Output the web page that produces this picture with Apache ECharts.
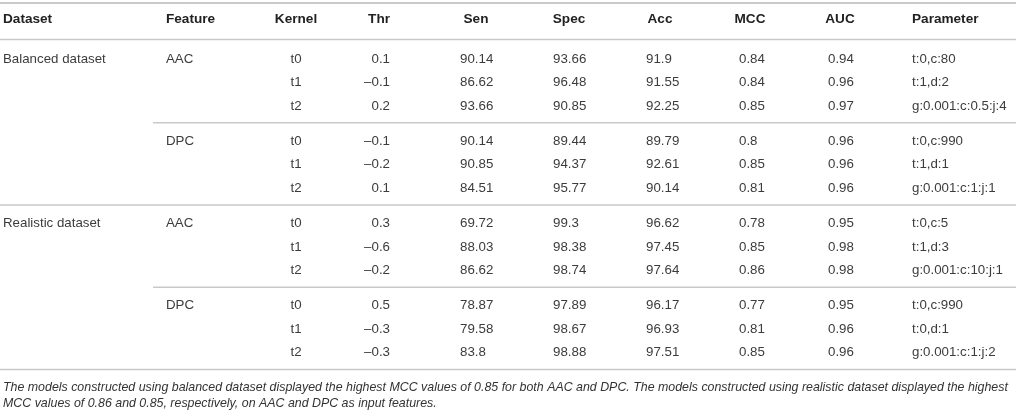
<!DOCTYPE html>
<html lang="en">
<head>
    <meta charset="UTF-8">
    <title>SVM results table</title>
    <script src="https://cdn.jsdelivr.net/npm/echarts@6.0.0/dist/echarts.min.js"></script>
    <style>
        html, body { margin: 0; padding: 0; background: #fff; }
    </style>
</head>
<body>
    <div id="main" style="width: 1016px; height: 413px"></div>
</body>
<script>
    // table content
    var columns = ['Dataset', 'Feature', 'Kernel', 'Thr', 'Sen', 'Spec', 'Acc', 'MCC', 'AUC', 'Parameter'];
    var datasets = ['Balanced dataset', 'Realistic dataset'];
    var features = ['AAC', 'DPC'];
    var kernels = ['t0', 't1', 't2'];
    var thr = [0.1, -0.1, 0.2, -0.1, -0.2, 0.1, 0.3, -0.6, -0.2, 0.5, -0.3, -0.3];
    var sen = [90.14, 86.62, 93.66, 90.14, 90.85, 84.51, 69.72, 88.03, 86.62, 78.87, 79.58, 83.8];
    var spec = [93.66, 96.48, 90.85, 89.44, 94.37, 95.77, 99.3, 98.38, 98.74, 97.89, 98.67, 98.88];
    var acc = [91.9, 91.55, 92.25, 89.79, 92.61, 90.14, 96.62, 97.45, 97.64, 96.17, 96.93, 97.51];
    var mcc = [0.84, 0.84, 0.85, 0.8, 0.85, 0.81, 0.78, 0.85, 0.86, 0.77, 0.81, 0.85];
    var auc = [0.94, 0.96, 0.97, 0.96, 0.96, 0.96, 0.95, 0.98, 0.98, 0.95, 0.96, 0.96];
    var params = ['t:0,c:80', 't:1,d:2', 'g:0.001:c:0.5:j:4',
        't:0,c:990', 't:1,d:1', 'g:0.001:c:1:j:1',
        't:0,c:5', 't:1,d:3', 'g:0.001:c:10:j:1',
        't:0,c:990', 't:0,d:1', 'g:0.001:c:1:j:2'];
    var footnote = [
        'The models constructed using balanced dataset displayed the highest MCC values of 0.85 for both AAC and DPC. The models constructed using realistic dataset displayed the highest',
        'MCC values of 0.86 and 0.85, respectively, on AAC and DPC as input features.'
    ];

    // layout (x in px along a 0..1016 axis, y in row units)
    var headX = [3, 166, 296, 390, 476, 569, 660, 750, 840, 912];
    var headAlign = ['left', 'left', 'center', 'right', 'center', 'center', 'center', 'center', 'center', 'left'];
    var cellX = [3, 166, 296, 390, 460, 553, 646, 739, 828, 912];
    var cellAlign = ['left', 'left', 'center', 'right', 'left', 'left', 'left', 'left', 'left', 'left'];
    var FIRST_ROW = 1.7, GROUP_PITCH = 3.5;
    var FONT = '"Liberation Sans", Arial, sans-serif';

    function rowY(i) {
        return FIRST_ROW + Math.floor(i / 3) * GROUP_PITCH + i % 3;
    }
    function num(v) {
        return v < 0 ? '\u2013' + String(-v) : String(v);
    }

    var cells = [];
    columns.forEach(function (c, j) {
        cells.push({value: [headX[j], 0], text: c, align: headAlign[j], bold: true});
    });
    for (var i = 0; i < thr.length; i++) {
        var row = [
            i % 6 === 0 ? datasets[i / 6] : '',
            i % 3 === 0 ? features[(i / 3) % 2] : '',
            kernels[i % 3],
            num(thr[i]), num(sen[i]), num(spec[i]), num(acc[i]), num(mcc[i]), num(auc[i]),
            params[i]
        ];
        row.forEach(function (t, j) {
            if (t !== '') cells.push({value: [cellX[j], rowY(i)], text: t, align: cellAlign[j], bold: false});
        });
    }

    // rules: [x0, x1, y, width]
    var rules = [[0, 1016, -0.68, 2], [0, 1016, 0.87, 1.5]];
    for (var g = 0; g < 4; g++) {
        var y = rowY(g * 3 + 2) + 0.72;
        rules.push([g % 2 === 0 ? 153 : 0, 1016, y, 1.5]);
    }

    var chart = echarts.init(document.getElementById('main'));
    chart.setOption({
        animation: false,
        title: {
            text: footnote.join('\n'),
            left: 3,
            top: 380,
            padding: 0,
            textStyle: {
                fontFamily: FONT,
                fontStyle: 'italic',
                fontWeight: 'normal',
                fontSize: 12.4,
                lineHeight: 16,
                color: '#333'
            }
        },
        grid: {left: 0, right: 0, top: 19, height: 352.5},
        xAxis: {type: 'value', min: 0, max: 1016, show: false},
        yAxis: {type: 'value', min: 0, max: 15, inverse: true, show: false},
        series: [{
            type: 'custom',
            data: rules,
            renderItem: function (params, api) {
                var p0 = api.coord([api.value(0), api.value(2)]);
                var p1 = api.coord([api.value(1), api.value(2)]);
                return {
                    type: 'line',
                    shape: {x1: p0[0], y1: p0[1], x2: p1[0], y2: p1[1]},
                    style: {stroke: '#c9c9c9', lineWidth: api.value(3)}
                };
            }
        }, {
            type: 'custom',
            data: cells.map(function (c) { return c.value; }),
            renderItem: function (params, api) {
                var c = cells[params.dataIndex];
                var p = api.coord([api.value(0), api.value(1)]);
                return {
                    type: 'text',
                    x: p[0],
                    y: p[1],
                    style: {
                        text: c.text,
                        fill: c.bold ? '#222' : '#3c3c3c',
                        font: (c.bold ? 'bold 13.6px ' : '13.3px ') + FONT,
                        align: c.align,
                        verticalAlign: 'middle'
                    }
                };
            }
        }]
    });
</script>
</html>
